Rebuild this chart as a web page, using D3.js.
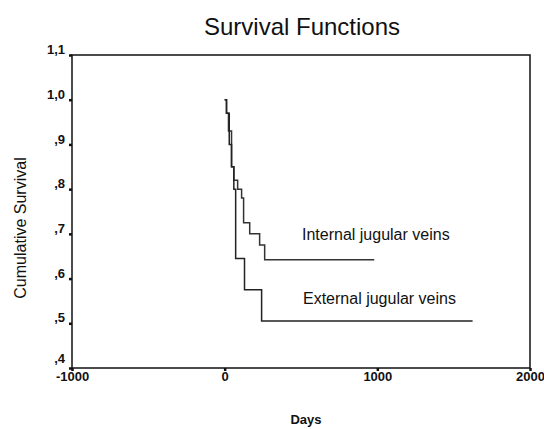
<!DOCTYPE html>
<html>
<head>
<meta charset="utf-8">
<script src="https://cdn.jsdelivr.net/npm/d3@7"></script>
<style>
  body { margin: 0; background: #fff; }
  text { font-family: "Liberation Sans", Arial, sans-serif; fill: #111; }
</style>
</head>
<body>
<script>
// Kaplan-Meier steps (days, cumulative survival)
var internalDays = [0, 12, 25, 45, 60, 85, 111, 124, 164, 229, 262, 980];
var internalSurv = [1.0, 0.97, 0.93, 0.85, 0.82, 0.80, 0.78, 0.725, 0.70, 0.675, 0.642, 0.642];
var externalDays = [0, 12, 30, 45, 60, 72, 130, 242, 1624];
var externalSurv = [1.0, 0.97, 0.90, 0.85, 0.80, 0.645, 0.575, 0.505, 0.505];
var xTicks = [-1000, 0, 1000, 2000];
var yTicks = [0.4, 0.5, 0.6, 0.7, 0.8, 0.9, 1.0, 1.1];

var width = 544, height = 429;
var margin = {left: 72, right: 14, top: 55, bottom: 61};

var svg = d3.select("body").append("svg")
    .attr("width", width)
    .attr("height", height);

var x = d3.scaleLinear().domain([-1000, 2000]).range([margin.left, width - margin.right]);
var y = d3.scaleLinear().domain([0.4, 1.1]).range([height - margin.bottom, margin.top]);

// frame
svg.append("rect")
    .attr("x", x(-1000))
    .attr("y", y(1.1))
    .attr("width", x(2000) - x(-1000))
    .attr("height", y(0.4) - y(1.1))
    .style("fill", "none")
    .style("stroke", "#111")
    .style("stroke-width", 1.5);

function fmtY(d) {
  var s = d3.format(".1f")(d).replace(".", ",");
  return s.charAt(0) == "0" ? s.slice(1) : s;
}
function fmtX(d) {
  return String(d);   // plain hyphen minus like the original
}

var yAxis = svg.append("g")
    .attr("transform", "translate(" + x(-1000) + ",0)")
    .call(d3.axisLeft(y).tickValues(yTicks).tickSize(3).tickFormat(fmtY));
var xAxis = svg.append("g")
    .attr("transform", "translate(0," + y(0.4) + ")")
    .call(d3.axisBottom(x).tickValues(xTicks).tickSize(3).tickFormat(fmtX));

[xAxis, yAxis].forEach(function(a) {
  a.select(".domain").remove();
  a.selectAll(".tick line").style("stroke", "#111").style("stroke-width", 2.5);
  a.selectAll(".tick text")
    .style("font-size", "13px")
    .style("font-weight", "bold")
    .style("font-family", "Liberation Sans, Arial, sans-serif")
    .style("fill", "#111");
});
yAxis.selectAll(".tick text")
    .attr("x", -7)
    .attr("dy", function(d) { return d == 0.4 ? "-0.45em" : "-0.1em"; });
xAxis.selectAll(".tick text").attr("y", 4);

function stepLine(days, surv) {
  var pts = days.map(function(d, i) { return [d, surv[i]]; });
  return d3.line()
    .x(function(p) { return x(p[0]); })
    .y(function(p) { return y(p[1]); })
    .curve(d3.curveStepAfter)(pts);
}

svg.append("path")
    .attr("d", stepLine(internalDays, internalSurv))
    .style("fill", "none")
    .style("stroke", "#333")
    .style("stroke-width", 1.5);

svg.append("path")
    .attr("d", stepLine(externalDays, externalSurv))
    .style("fill", "none")
    .style("stroke", "#222")
    .style("stroke-width", 1.5);

svg.append("text")
    .attr("x", 302).attr("y", 240)
    .style("font-size", "16px")
    .text("Internal jugular veins");

svg.append("text")
    .attr("x", 303).attr("y", 304)
    .style("font-size", "16px")
    .text("External jugular veins");

svg.append("text")
    .attr("x", 302).attr("y", 35)
    .attr("text-anchor", "middle")
    .style("font-size", "24px")
    .text("Survival Functions");

svg.append("text")
    .attr("x", 306).attr("y", 424)
    .attr("text-anchor", "middle")
    .style("font-size", "13px")
    .style("font-weight", "bold")
    .text("Days");

svg.append("text")
    .attr("transform", "translate(26,228) rotate(-90)")
    .attr("text-anchor", "middle")
    .style("font-size", "16px")
    .text("Cumulative Survival");
</script>
</body>
</html>
